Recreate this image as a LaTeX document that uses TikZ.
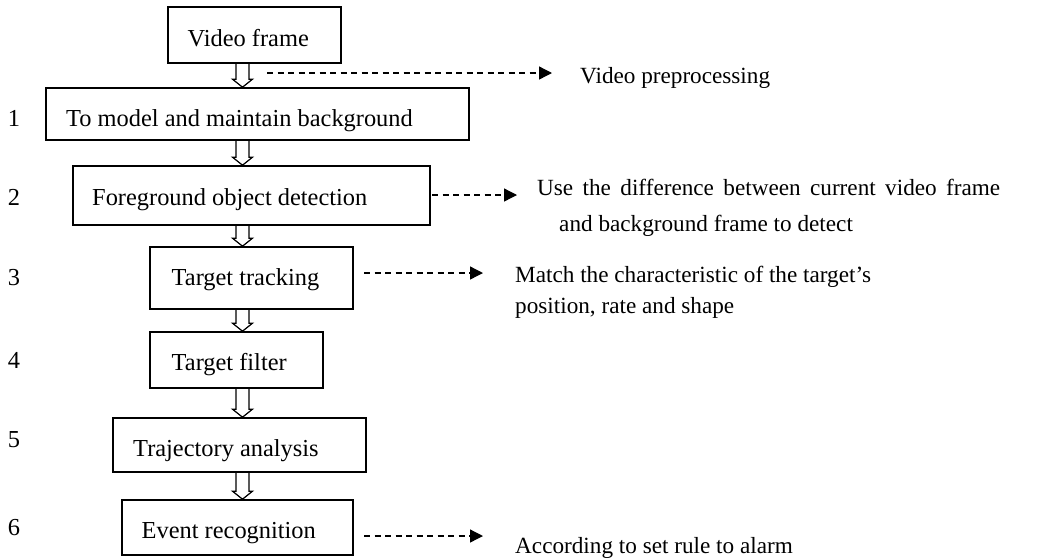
\documentclass[tikz,border=0pt]{standalone}
\usepackage{fontspec}
\setmainfont{Liberation Serif}
\usetikzlibrary{arrows.meta,calc}
\newcommand\boxfont{\fontsize{24.4}{28}\selectfont}
\newcommand\sidefont{\fontsize{23.2}{28}\selectfont}
\begin{document}
\begin{tikzpicture}[x=1pt,y=-1pt,
  stepbox/.style={draw, line width=1.6pt, rectangle, inner sep=0pt},
  boxtext/.style={anchor=base west, inner sep=0pt, font=\boxfont},
  hollowarrow/.style={draw, line width=1.2pt, line join=miter,
    to path={let \p1=(\tikztostart), \p2=(\tikztotarget) in
      (\x1-6.5pt,\y1) -- (\x1-6.5pt,\y2+8pt) -- (\x1-10pt,\y2+8pt) -- (\x1,\y2)
      -- (\x1+10pt,\y2+8pt) -- (\x1+6.5pt,\y2+8pt) -- (\x1+6.5pt,\y1)}},
  dasharrow/.style={draw, line width=1.3pt, dash pattern=on 6pt off 4.5pt,
    -{Triangle[length=13pt,width=13pt]}},
  sidetext/.style={anchor=base west, inner sep=0pt, font=\sidefont},
  numlabel/.style={font=\boxfont, inner sep=0pt}]
\useasboundingbox (0,0) rectangle (1044,558);

% boxes
\node[stepbox, minimum width=173pt, minimum height=56pt] (vf) at (254.5,35) {};
\node[stepbox, minimum width=423pt, minimum height=52pt] (model) at (257.5,114) {};
\node[stepbox, minimum width=357pt, minimum height=59pt] (fg) at (251.5,195.5) {};
\node[stepbox, minimum width=203pt, minimum height=62pt] (tt) at (251.5,278) {};
\node[stepbox, minimum width=173pt, minimum height=56pt] (tf) at (236.5,360) {};
\node[stepbox, minimum width=253pt, minimum height=54pt] (ta) at (239.5,445) {};
\node[stepbox, minimum width=231pt, minimum height=55pt] (er) at (237.5,527.5) {};

% box texts
\node[boxtext] (vf-t) at (187.5,46.5) {Video frame};
\node[boxtext] (model-t) at (66,126.5) {To model and maintain background};
\node[boxtext] (fg-t) at (92,205) {Foreground object detection};
\node[boxtext] (tt-t) at (171.5,285) {Target tracking};
\node[boxtext] (tf-t) at (171.5,370.5) {Target filter};
\node[boxtext] (ta-t) at (133,456) {Trajectory analysis};
\node[boxtext] (er-t) at (141.5,538) {Event recognition};

% step numbers
\node[numlabel] (n1) at (14,118) {1};
\node[numlabel] (n2) at (14,197) {2};
\node[numlabel] (n3) at (14,278) {3};
\node[numlabel] (n4) at (14,360) {4};
\node[numlabel] (n5) at (14,440) {5};
\node[numlabel] (n6) at (14,528) {6};

% hollow arrows
\coordinate (ax) at (242.5,0);
\draw[hollowarrow] (vf.south -| ax) to (model.north -| ax);
\draw[hollowarrow] (model.south -| ax) to (fg.north -| ax);
\draw[hollowarrow] (fg.south -| ax) to (tt.north -| ax);
\draw[hollowarrow] (tt.south -| ax) to (tf.north -| ax);
\draw[hollowarrow] (tf.south -| ax) to (ta.north -| ax);
\draw[hollowarrow] (ta.south -| ax) to (er.north -| ax);

% side texts
\node[sidetext] (t1) at (580,83) {Video preprocessing};
\node[sidetext] (t2a) at (537,195) {\makebox[463pt][s]{Use the difference between current video frame}};
\node[sidetext] (t2b) at (559,231) {and background frame to detect};
\node[sidetext] (t3a) at (515,282) {Match the characteristic of the target’s};
\node[sidetext] (t3b) at (515,313) {position, rate and shape};
\node[sidetext] (t4) at (515,553) {According to set rule to alarm};

% dashed arrows
\coordinate (d1s) at (267,73);  \coordinate (d1e) at (552,73);
\coordinate (d2s) at (432,195); \coordinate (d2e) at (517,195);
\coordinate (d3s) at (364,273); \coordinate (d3e) at (483,273);
\coordinate (d4s) at (364,536); \coordinate (d4e) at (483,536);
\draw[dasharrow] (d1s) -- (d1e);
\draw[dasharrow] (d2s) -- (d2e);
\draw[dasharrow] (d3s) -- (d3e);
\draw[dasharrow] (d4s) -- (d4e);
\end{tikzpicture}
\end{document}
